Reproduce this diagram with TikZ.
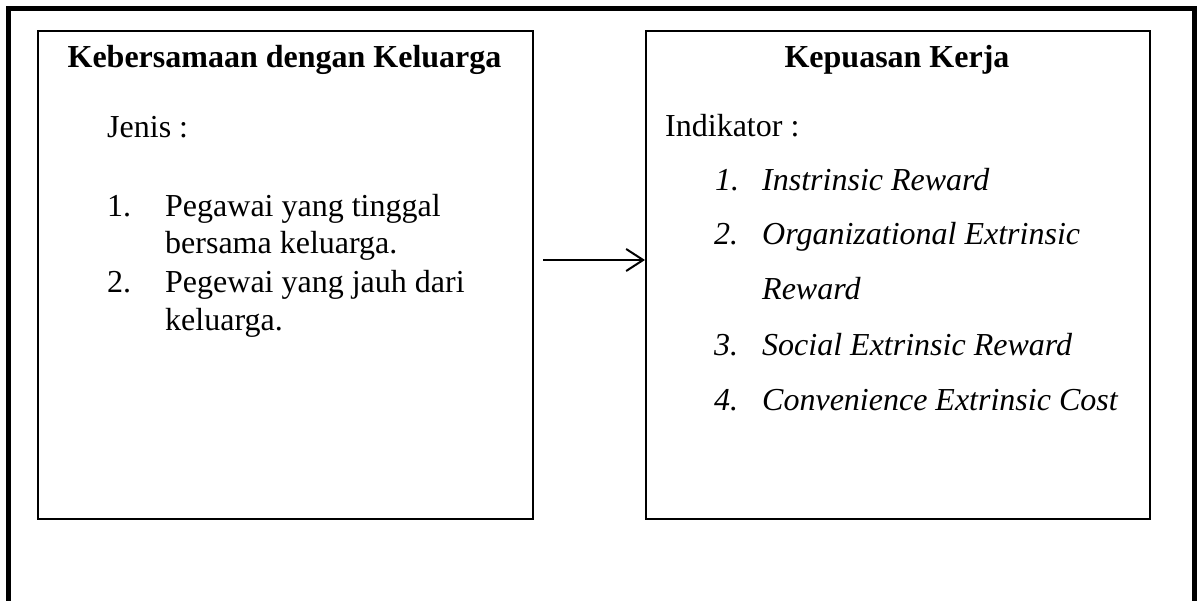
\documentclass[tikz,border=0pt]{standalone}
\usepackage{fontspec}
\setmainfont{Liberation Serif}
\usetikzlibrary{arrows.meta}
\begin{document}
\begin{tikzpicture}[x=1pt,y=-1pt,
  box/.style={draw=black, line width=2pt, rectangle, inner sep=0pt, anchor=north west},
  txt/.style={inner sep=0pt, anchor=base west, font=\fontsize{32}{38}\selectfont},
  ttl/.style={inner sep=0pt, anchor=base, font=\fontsize{32}{38}\selectfont\bfseries},
  itxt/.style={txt, font=\fontsize{32}{38}\selectfont\itshape},
  frame/.style={line width=5pt, line join=miter},
  conn/.style={line width=2pt, -{Straight Barb[length=17pt,width=22pt,line width=2pt]}}]
\useasboundingbox (0,0) rectangle (1197,601);
% outer frame (open at bottom)
\draw[frame] (8.5,601) -- (8.5,8.5) -- (1194.5,8.5) -- (1194.5,601);
% boxes
\node[box, minimum width=495pt, minimum height=488pt] (a) at (37,30) {};
\node[box, minimum width=504pt, minimum height=488pt] (b) at (645,30) {};
% left box text
\node[ttl] (ta) at (284.5,68) {Kebersamaan dengan Keluarga};
\node[txt] (jn) at (107,138) {Jenis :};
\node[txt] (n1) at (107,217) {1.};
\node[txt] (l1a) at (165,217) {Pegawai yang tinggal};
\node[txt] (l1b) at (165,254) {bersama keluarga.};
\node[txt] (n2) at (107,293) {2.};
\node[txt] (l2a) at (165,293) {Pegewai yang jauh dari};
\node[txt] (l2b) at (165,331) {keluarga.};
% right box text
\node[ttl] (tb) at (897,68) {Kepuasan Kerja};
\node[txt] (ind) at (665,137) {Indikator :};
\node[itxt] (m1) at (715,191) {1.};
\node[itxt] (r1) at (762,191) {Instrinsic Reward};
\node[itxt] (m2) at (714,245) {2.};
\node[itxt] (r2a) at (762,245) {Organizational Extrinsic};
\node[itxt] (r2b) at (762,300) {Reward};
\node[itxt] (m3) at (714,356) {3.};
\node[itxt] (r3) at (762,356) {Social Extrinsic Reward};
\node[itxt] (m4) at (714,411) {4.};
\node[itxt] (r4) at (762,411) {Convenience Extrinsic Cost};
% connector
\coordinate (arrS) at (543,260);
\draw[conn] (arrS) -- (arrS -| b.west);
\end{tikzpicture}
\end{document}
